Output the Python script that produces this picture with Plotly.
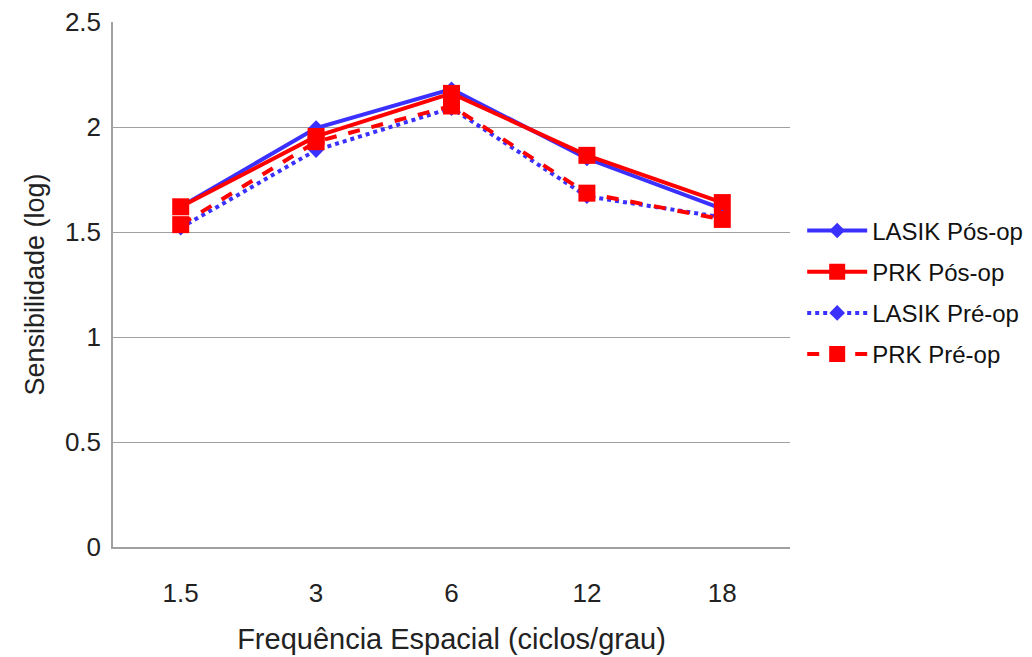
import plotly.graph_objects as go

# Spatial frequency categories (cycles/degree)
frequencias = ["1.5", "3", "6", "12", "18"]

# Contrast sensitivity (log) per group
lasik_pos = [1.62, 1.995, 2.18, 1.85, 1.61]
prk_pos = [1.62, 1.955, 2.16, 1.865, 1.64]
lasik_pre = [1.52, 1.89, 2.09, 1.67, 1.57]
prk_pre = [1.535, 1.93, 2.10, 1.685, 1.56]

AZUL = "#3A30FF"
VERMELHO = "#FF0000"

series = [
    ("LASIK Pós-op", lasik_pos, AZUL, "solid", "diamond", 12),
    ("PRK Pós-op", prk_pos, VERMELHO, "solid", "square", 17),
    ("LASIK Pré-op", lasik_pre, AZUL, "dot", "diamond", 12),
    ("PRK Pré-op", prk_pre, VERMELHO, "dash", "square", 17),
]

fig = go.Figure()
for i, (nome, valores, cor, traco, simbolo, tam) in enumerate(series):
    fig.add_trace(go.Scatter(
        x=frequencias, y=valores, name=nome, mode="lines+markers",
        line=dict(color=cor, width=4, dash=traco),
        marker=dict(symbol=simbolo, size=tam, color=cor, line=dict(width=0)),
        legendgroup=str(i),
    ))

fonte = dict(family="Liberation Sans, Arial, sans-serif", color="#222222")

fig.update_layout(
    width=1032, height=657,
    margin=dict(l=113, r=242, t=22, b=110, autoexpand=False),
    paper_bgcolor="white", plot_bgcolor="white",
    font=fonte,
    showlegend=True,
    legend=dict(
        x=1.018, xanchor="left", y=0.485, yanchor="middle",
        font=dict(size=24, family=fonte["family"], color="#111111"),
        tracegroupgap=7, itemwidth=60, bgcolor="rgba(0,0,0,0)",
    ),
    xaxis=dict(
        type="category", range=[-0.5, 4.5], automargin=False,
        showgrid=False, showline=True, linecolor="#A0A0A0", linewidth=1.5,
        ticks="", tickfont=dict(size=26), ticklabelstandoff=22,
        title=dict(text="Frequência Espacial (ciclos/grau)", font=dict(size=29), standoff=22),
    ),
    yaxis=dict(
        range=[0, 2.5], dtick=0.5, tickformat="~g", automargin=False,
        showgrid=True, gridcolor="#A0A0A0", gridwidth=1,
        showline=True, linecolor="#A0A0A0", linewidth=1.5,
        zeroline=False, ticks="", tickfont=dict(size=26), ticklabelstandoff=5,
        title=dict(text="Sensibilidade (log)", font=dict(size=27), standoff=12),
    ),
)

fig.write_html("out.html")
